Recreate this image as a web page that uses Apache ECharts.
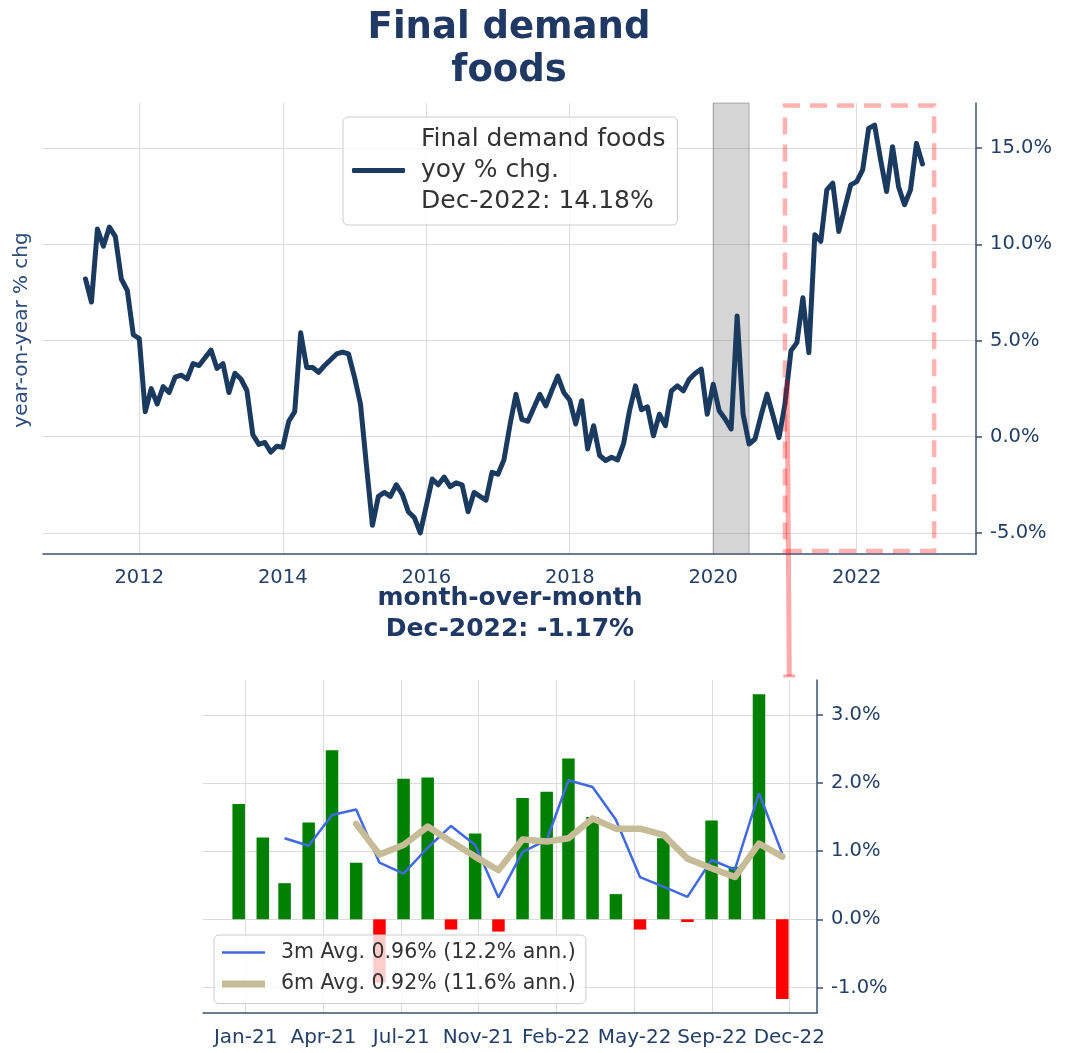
<!DOCTYPE html>
<html><head><meta charset="utf-8">
<script src="https://cdn.jsdelivr.net/npm/echarts@6/dist/echarts.min.js"></script>
<style>html,body{margin:0;padding:0;background:#fff}#c{width:1070px;height:1053px}</style>
</head><body><div id="c"></div>
<script>
// ---------- data ----------
const yoyStart = [2011, 4]; // first month of the yoy series (year, month)
const yoyValues = [
  8.2, 7.0, 10.8, 9.9, 10.9, 10.4, 8.2, 7.6, 5.3,
  5.1, 1.3, 2.5, 1.7, 2.6, 2.3, 3.1, 3.2, 3.0, 3.8, 3.7, 4.1,
  4.5, 3.55, 3.8, 2.3, 3.3, 3.0, 2.4, 0.1, -0.4, -0.3, -0.8, -0.5,
  -0.55, 0.8, 1.3, 5.4, 3.6, 3.6, 3.35, 3.7, 4.0, 4.3, 4.4, 4.3,
  3.1, 1.7, -1.5, -4.6, -3.1, -2.9, -3.1, -2.5, -3.0, -3.9, -4.2, -5.0,
  -3.6, -2.2, -2.5, -2.1, -2.6, -2.4, -2.5, -3.9, -2.9, -3.1, -3.3, -1.85,
  -1.95, -1.2, 0.6, 2.2, 0.9, 0.8, 1.5, 2.2, 1.6, 2.4, 3.15, 2.3,
  1.9, 0.66, 1.87, -0.64, 0.57, -0.98, -1.24, -1.07, -1.21, -0.38, 1.35, 2.64,
  1.4, 1.55, 0.05, 1.17, 0.57, 2.38, 2.64, 2.38, 2.99, 3.3, 3.51, 1.17,
  2.73, 1.35, 0.92, 0.40, 6.27, 1.17, -0.38, -0.12, 1.1, 2.21, 1.1, -0.05,
  1.69, 4.46, 4.89, 7.22, 4.37, 10.5, 10.16, 12.83, 13.18, 10.67, 11.88, 13.09,
  13.26, 13.87, 16.03, 16.2, 14.39, 12.75, 15.08, 13.0, 12.06, 12.83, 15.25, 14.18
];
const yoyXTicks = [2012, 2014, 2016, 2018, 2020, 2022];
const yoyYTicks = [-5, 0, 5, 10, 15];
const recessionSpan = [2020.0, 2020.5];
const zoomWindow = [2021.0, 2023.08];

const momMonths = ['2021-01','2021-02','2021-03','2021-04','2021-05','2021-06','2021-07','2021-08','2021-09','2021-10','2021-11','2021-12',
                   '2022-01','2022-02','2022-03','2022-04','2022-05','2022-06','2022-07','2022-08','2022-09','2022-10','2022-11','2022-12'];
const momValues = [1.69, 1.20, 0.53, 1.42, 2.48, 0.83, -0.93, 2.06, 2.08, -0.15, 1.26, -0.18,
                   1.78, 1.87, 2.36, 1.50, 0.37, -0.15, 1.19, -0.04, 1.45, 0.77, 3.30, -1.17];
const avg3m = [null, null, 1.19, 1.08, 1.53, 1.61, 0.83, 0.67, 1.05, 1.37, 1.09, 0.32,
               0.99, 1.16, 2.04, 1.94, 1.46, 0.62, 0.48, 0.33, 0.87, 0.73, 1.85, 0.96];
const avg6m = [null, null, null, null, null, 1.40, 0.95, 1.09, 1.36, 1.14, 0.92, 0.72,
               1.17, 1.14, 1.19, 1.48, 1.33, 1.33, 1.24, 0.89, 0.75, 0.62, 1.11, 0.92];
const momTickLabels = ['Jan-21','Apr-21','Jul-21','Nov-21','Feb-22','May-22','Sep-22','Dec-22'];
const momTickDays = [9, 109, 209, 308, 408, 509, 609, 708];
const momYTicks = [-1, 0, 1, 2, 3];

const yoyName = 'Final demand foods\nyoy % chg.\nDec-2022: 14.18%';
const name3m = '3m Avg. 0.96% (12.2% ann.)';
const name6m = '6m Avg. 0.92% (11.6% ann.)';

// ---------- build ----------
const yoyData = yoyValues.map((v, i) => {
  const m0 = (yoyStart[1] - 1) + i;
  return [yoyStart[0] + m0 / 12, v];
});
const day0 = Date.UTC(2021, 0, 1);
const momDays = momMonths.map(s => {
  const [y, m] = s.split('-').map(Number);
  return (Date.UTC(y, m - 1, 1) - day0) / 86400000;
});
const momData = momValues.map((v, i) => [momDays[i], v]);
const m3Data = avg3m.map((v, i) => v == null ? null : [momDays[i], v]).filter(d => d);
const m6Data = avg6m.map((v, i) => v == null ? null : [momDays[i], v]).filter(d => d);

const FONT = 'DejaVu Sans';
const NAVY = '#1a3a60';
const TXT = '#243f66';
const TITLE = '#1f3864';
const GRIDC = '#dcdcdc';
const AXIS = '#3d5275';
const topYRange = [-6.1, 17.35];
const botYRange = [-1.374, 3.51];

const pct = v => v.toFixed(1) + '%';
const nearestLabel = v => {
  let b = 0;
  momTickDays.forEach((d, i) => { if (Math.abs(d - v) < Math.abs(momTickDays[b] - v)) b = i; });
  return momTickLabels[b];
};
const axisLineStyle = {show: true, onZero: false, lineStyle: {color: AXIS, width: 1.5}};

const chart = echarts.init(document.getElementById('c'), null, {renderer: 'canvas'});
const option = {
  animation: false,
  backgroundColor: '#ffffff',
  textStyle: {fontFamily: FONT},
  title: [
    {text: 'Final demand\nfoods', left: 509, top: 7, textAlign: 'center', padding: 0,
     textStyle: {fontFamily: FONT, fontSize: 37, fontWeight: 'bold', color: TITLE, lineHeight: 43}},
    {text: 'month-over-month\nDec-2022: -1.17%', left: 510, top: 583, textAlign: 'center', padding: 0,
     textStyle: {fontFamily: FONT, fontSize: 25, fontWeight: 'bold', color: TITLE, lineHeight: 31}}
  ],
  grid: [
    {left: 43, right: 94, top: 103, bottom: 499, containLabel: false, outerBoundsMode: 'none'},
    {left: 203, right: 253, top: 680, bottom: 40, containLabel: false, outerBoundsMode: 'none'}
  ],
  legend: [
    {data: [{name: yoyName, icon: 'roundRect'}], left: 343, top: 117, orient: 'vertical',
     itemWidth: 53, itemHeight: 5, padding: [7, 12, 8, 9], selectedMode: false,
     backgroundColor: 'rgba(255,255,255,0.8)', borderColor: '#cccccc', borderWidth: 1, borderRadius: 5,
     textStyle: {fontFamily: FONT, fontSize: 25, color: '#333333', lineHeight: 31, padding: [0, 0, 0, 11]}},
    {data: [
       {name: name3m, icon: 'path://M0,0H43V0.01H0Z M0,4.25H43V6.75H0Z M0,10.99H43V11H0Z'},
       {name: name6m, icon: 'path://M0,0H43V0.01H0Z M0,2H43V9H0Z M0,10.99H43V11H0Z'}],
     left: 214, top: 935, orient: 'vertical', itemWidth: 43, itemHeight: 11, itemGap: 10.6,
     padding: [7, 10, 9, 8], selectedMode: false,
     backgroundColor: 'rgba(255,255,255,0.8)', borderColor: '#cccccc', borderWidth: 1, borderRadius: 5,
     textStyle: {fontFamily: FONT, fontSize: 20.5, color: '#333333', lineHeight: 20, padding: [0, 0, 0, 11]}}
  ],
  xAxis: [
    {gridIndex: 0, type: 'value', min: 2010.658, max: 2023.663,
     axisLine: axisLineStyle,
     axisTick: {show: false, customValues: yoyXTicks},
     axisLabel: {customValues: yoyXTicks, formatter: v => String(Math.round(v)), color: TXT, fontSize: 19.5, margin: 14, fontFamily: FONT},
     splitLine: {show: true, lineStyle: {color: GRIDC, width: 1}}},
    {gridIndex: 1, type: 'value', min: -45.9, max: 743.6,
     axisLine: axisLineStyle,
     axisTick: {show: false, customValues: momTickDays},
     axisLabel: {customValues: momTickDays, formatter: v => nearestLabel(v), color: TXT, fontSize: 20, margin: 15, fontFamily: FONT},
     splitLine: {show: true, lineStyle: {color: GRIDC, width: 1}}}
  ],
  yAxis: [
    {gridIndex: 0, type: 'value', position: 'right', min: topYRange[0], max: topYRange[1],
     axisLine: axisLineStyle,
     axisTick: {show: true, length: 6, customValues: yoyYTicks, lineStyle: {color: AXIS, width: 1.5}},
     axisLabel: {customValues: yoyYTicks, formatter: pct, color: TXT, fontSize: 19.5, margin: 14, fontFamily: FONT},
     splitLine: {show: true, lineStyle: {color: GRIDC, width: 1}}},
    {gridIndex: 1, type: 'value', position: 'right', min: botYRange[0], max: botYRange[1],
     axisLine: axisLineStyle,
     axisTick: {show: true, length: 6, customValues: momYTicks, lineStyle: {color: AXIS, width: 1.5}},
     axisLabel: {customValues: momYTicks, formatter: pct, color: TXT, fontSize: 19.5, margin: 14, fontFamily: FONT},
     splitLine: {show: true, lineStyle: {color: GRIDC, width: 1}}}
  ],
  series: [
    {name: yoyName, type: 'line', xAxisIndex: 0, yAxisIndex: 0, data: yoyData, symbol: 'none', z: 3,
     lineStyle: {color: NAVY, width: 5, cap: 'round', join: 'round'}, itemStyle: {color: NAVY},
     markArea: {silent: true, data: [
       [{xAxis: recessionSpan[0], itemStyle: {color: 'rgba(128,128,128,0.33)', borderColor: 'rgba(100,100,100,0.45)', borderWidth: 1}},
        {xAxis: recessionSpan[1]}],
       [{xAxis: zoomWindow[0], yAxis: -5.95, itemStyle: {color: 'rgba(0,0,0,0)', borderColor: 'rgba(255,0,0,0.3)', borderWidth: 4.5, borderType: [17, 10]}},
        {xAxis: zoomWindow[1], yAxis: 17.22}]
     ]}},
    {name: 'mom', type: 'bar', xAxisIndex: 1, yAxisIndex: 1, data: momData, barWidth: 12.5, z: 2,
     itemStyle: {color: p => p.value[1] >= 0 ? '#008000' : '#ff0000'}},
    {name: name3m, type: 'line', xAxisIndex: 1, yAxisIndex: 1, data: m3Data, symbol: 'none', z: 3,
     lineStyle: {color: '#4169e1', width: 2.5}, itemStyle: {color: '#4169e1'}},
    {name: name6m, type: 'line', xAxisIndex: 1, yAxisIndex: 1, data: m6Data, symbol: 'none', z: 4,
     lineStyle: {color: '#c6bd98', width: 6.5, join: 'round', cap: 'round'}, itemStyle: {color: '#c6bd98'}}
  ]
};
chart.setOption(option);

// connector from the zoom window in the top chart down to the month-over-month chart
const p0 = chart.convertToPixel({gridIndex: 0}, [zoomWindow[0] + 0.03, 2.95]);
const p1 = chart.convertToPixel({gridIndex: 1}, [momTickDays[momTickDays.length - 1], botYRange[1]]);
chart.setOption({
  graphic: [
    {type: 'text', x: 22, y: 330, rotation: Math.PI / 2, z: 50,
     style: {text: 'year-on-year % chg', fill: '#2e4d7b', font: '20px "DejaVu Sans"', align: 'center', verticalAlign: 'middle'}},
    {type: 'line', z: 60, shape: {x1: p0[0], y1: p0[1], x2: p1[0], y2: p1[1] - 4},
     style: {stroke: 'rgba(255,0,0,0.33)', lineWidth: 5}},
    {type: 'line', z: 60, shape: {x1: p1[0] - 6, y1: p1[1] - 4, x2: p1[0] + 6, y2: p1[1] - 4},
     style: {stroke: 'rgba(255,0,0,0.33)', lineWidth: 3}}
  ]
});
</script></body></html>
